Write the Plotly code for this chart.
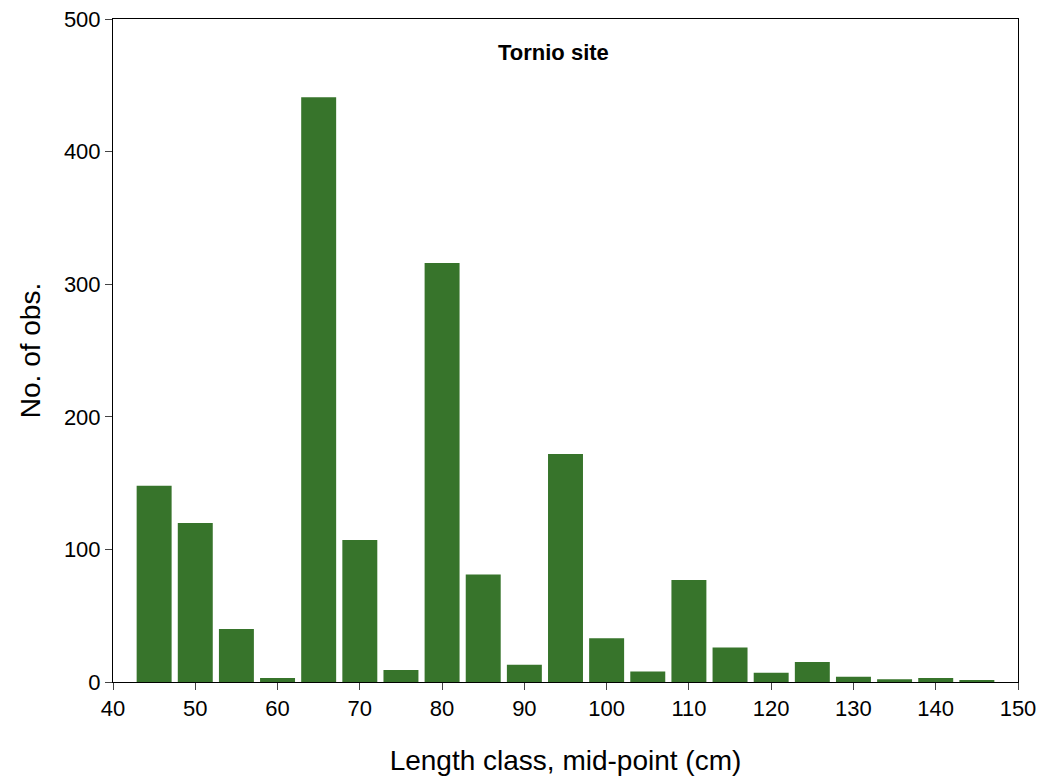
import plotly.graph_objects as go

midpoints = [45, 50, 55, 60, 65, 70, 75, 80, 85, 90, 95, 100, 105, 110, 115, 120, 125, 130, 135, 140, 145]
counts = [148, 120, 40, 3, 441, 107, 9, 316, 81, 13, 172, 33, 8, 77, 26, 7, 15, 4, 2, 3, 1]

fig = go.Figure(go.Bar(x=midpoints, y=counts, width=4.25, marker=dict(color="#37742b", line=dict(width=0))))
font = "Liberation Sans, Arial, sans-serif"
fig.update_layout(
    width=1046, height=780, plot_bgcolor="white", paper_bgcolor="white",
    margin=dict(l=105, r=36, t=11, b=106),
    font=dict(family=font, size=22, color="black"),
    showlegend=False,
    annotations=[dict(text="<b>Tornio site</b>", x=0.487, y=0.971, xref="paper", yref="paper",
                      showarrow=False, font=dict(size=22, family=font))],
)
fig.update_xaxes(range=[40, 150], tickvals=list(range(40, 151, 10)), ticks="outside", ticklen=7,
                 showline=True, linecolor="black", mirror=True, showgrid=False, zeroline=False,
                 ticklabeloverflow="allow", automargin=False,
                 title=dict(text="Length class, mid-point (cm)", font=dict(size=28), standoff=29))
fig.update_yaxes(range=[0, 500], tickvals=list(range(0, 501, 100)), ticks="outside", ticklen=7,
                 showline=True, linecolor="black", mirror=True, showgrid=False, zeroline=False,
                 ticklabeloverflow="allow", automargin=False,
                 title=dict(text="No. of obs.", font=dict(size=28)))
fig.write_html("out.html")
